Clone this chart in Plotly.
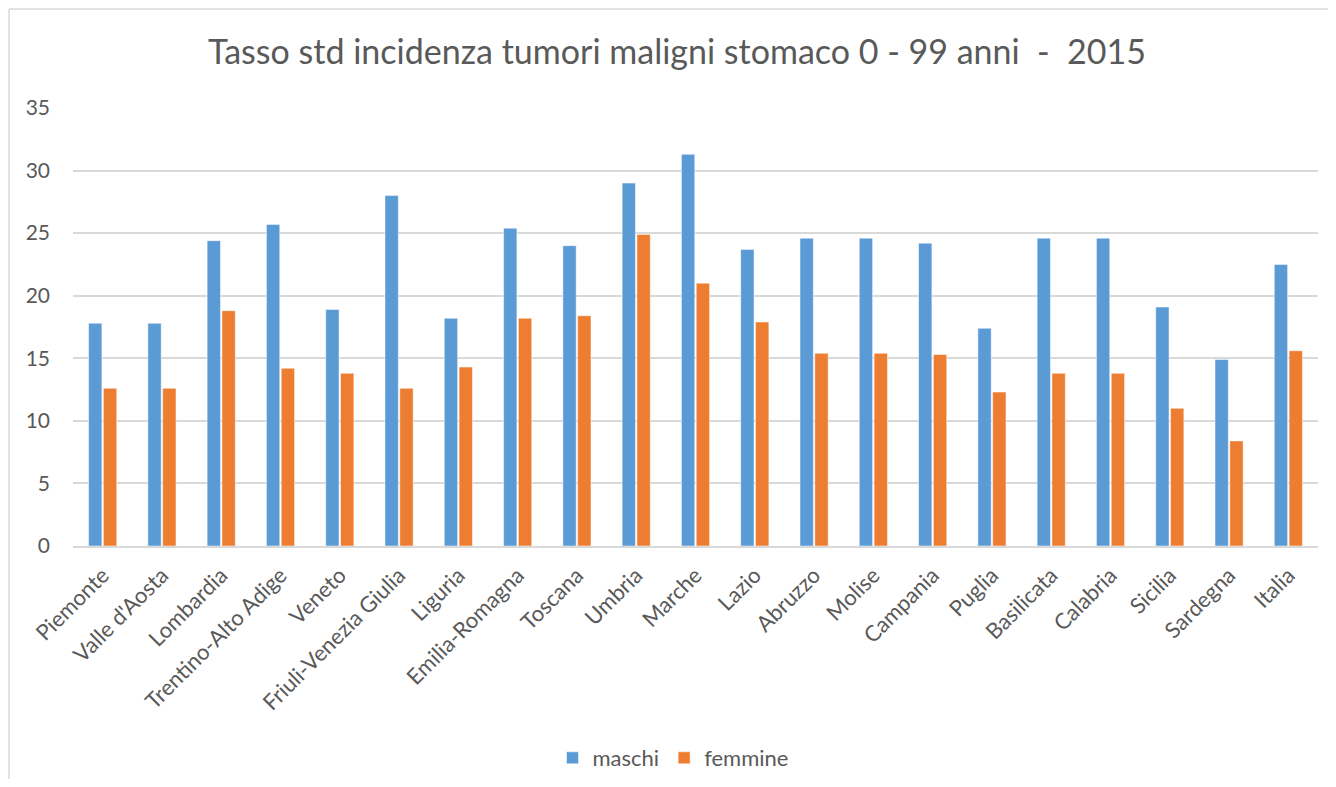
import plotly.graph_objs as go

regioni = ['Piemonte', "Valle d'Aosta", 'Lombardia', 'Trentino-Alto Adige', 'Veneto',
           'Friuli-Venezia Giulia', 'Liguria', 'Emilia-Romagna', 'Toscana', 'Umbria',
           'Marche', 'Lazio', 'Abruzzo', 'Molise', 'Campania', 'Puglia', 'Basilicata',
           'Calabria', 'Sicilia', 'Sardegna', 'Italia']
maschi = [17.8, 17.8, 24.4, 25.7, 18.9, 28.0, 18.2, 25.4, 24.0, 29.0,
          31.3, 23.7, 24.6, 24.6, 24.2, 17.4, 24.6, 24.6, 19.1, 14.9, 22.5]
femmine = [12.6, 12.6, 18.8, 14.2, 13.8, 12.6, 14.3, 18.2, 18.4, 24.9,
           21.0, 17.9, 15.4, 15.4, 15.3, 12.3, 13.8, 13.8, 11.0, 8.4, 15.6]

grigio = '#595959'
font = 'Lato'

# the page body has an 8px margin, so the figure starts at (8, 8) of the window
OFF = 8
W, H = 1336 - 2 * OFF, 787 - 2 * OFF
# plot area in window pixels: x 73..1318, y 108..546
L, R, T, B = 73 - OFF, 1318 - OFF, 108 - OFF, 546 - OFF

def px(x):
    return (x - OFF - L) / (R - L)
def py(y):
    return (B - (y - OFF)) / (B - T)

data = [
    go.Bar(x=regioni, y=maschi, name='maschi',
           marker=dict(color='#5b9bd5', line=dict(color='#ffffff', width=0.5))),
    go.Bar(x=regioni, y=femmine, name='femmine',
           marker=dict(color='#ed7d31', line=dict(color='#ffffff', width=0.5))),
]

layout = go.Layout(
    width=W, height=H,
    margin=dict(l=L, r=W - R, t=T, b=H - B),
    paper_bgcolor='white', plot_bgcolor='white',
    title=dict(text='Tasso std incidenza tumori maligni stomaco 0 - 99 anni  -  2015',
               x=(677 - OFF) / W, xanchor='center', y=1 - (52 - OFF) / H, yanchor='middle',
               font=dict(family=font, size=34, color=grigio)),
    font=dict(family=font, size=20, color=grigio),
    barmode='group', bargap=0.5, bargroupgap=0.1,
    xaxis=dict(tickangle=-45, showgrid=False, showline=True, linecolor='#d9d9d9',
               linewidth=1.5, ticks='', automargin=False, ticklabelstandoff=6,
               tickfont=dict(size=22, color=grigio)),
    yaxis=dict(range=[0, 35], dtick=5, showgrid=True, gridcolor='#d9d9d9', gridwidth=1.5,
               zeroline=False, ticks='', ticklabelstandoff=22, automargin=False,
               tickfont=dict(size=21, color=grigio)),
    legend=dict(orientation='h', x=px(673), xanchor='center',
                yref='container', y=1 - (758 - OFF) / H, yanchor='middle',
                font=dict(size=22, color=grigio), itemwidth=30),
    shapes=[
        dict(type='line', xref='paper', yref='paper', x0=px(9), x1=px(1340), y0=py(9), y1=py(9),
             line=dict(color='#d9d9d9', width=1.5)),
        dict(type='line', xref='paper', yref='paper', x0=px(9), x1=px(9), y0=py(9), y1=py(790),
             line=dict(color='#d9d9d9', width=1.5)),
    ],
)

fig = go.Figure(data=data, layout=layout)
fig.write_html('out.html')
